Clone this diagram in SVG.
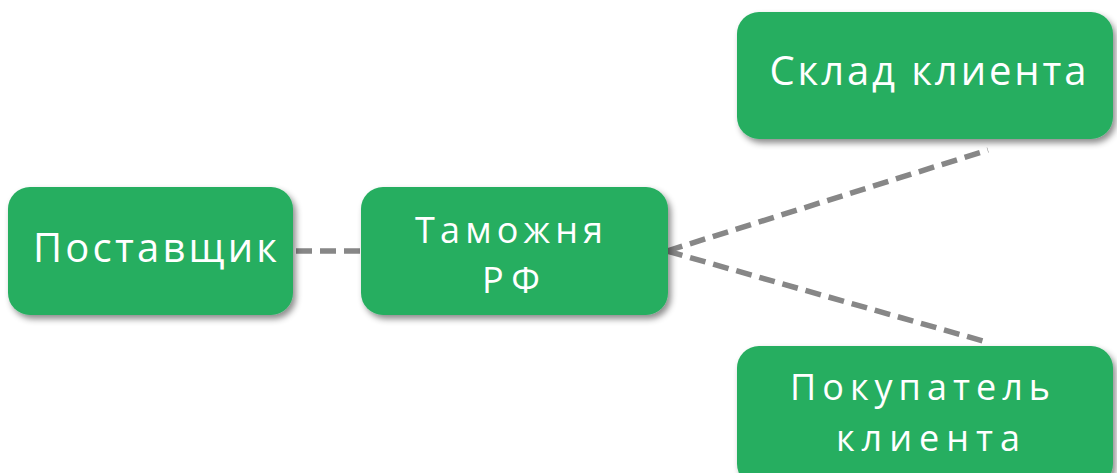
<svg xmlns="http://www.w3.org/2000/svg" width="1117" height="473" viewBox="0 0 1117 473">
<defs>
<filter id="sh" x="-10%" y="-10%" width="125%" height="135%">
<feDropShadow dx="3" dy="4" stdDeviation="3" flood-color="#000" flood-opacity="0.45"/>
</filter>
<style>
.box{fill:#27AE60;filter:url(#sh)}
.t{fill:#fff;font-family:"Open Sans","DejaVu Sans",sans-serif;font-size:40px;text-anchor:middle}
.s{font-size:36px}
.c{stroke:#878787;stroke-width:5.5;stroke-dasharray:16 8;fill:none}
</style>
</defs>
<g id="connectors">
<line class="c" x1="296" y1="251" x2="361" y2="251"/>
<line class="c" x1="667" y1="251" x2="988" y2="150"/>
<line class="c" x1="667" y1="251" x2="983" y2="341"/>
</g>
<g id="n-postavshchik">
<rect class="box" x="8" y="187" width="285" height="128" rx="22"/>
<text class="t" x="155" y="262" textLength="244" lengthAdjust="spacing">Поставщик</text>
</g>
<g id="n-tamozhnya">
<rect class="box" x="361" y="187" width="307" height="128" rx="22"/>
<text class="t s" x="509" y="243" textLength="188" lengthAdjust="spacing">Таможня</text>
<text class="t s" x="511" y="293" textLength="58" lengthAdjust="spacing">РФ</text>
</g>
<g id="n-sklad">
<rect class="box" x="737" y="12" width="376" height="127" rx="22"/>
<text class="t" x="928" y="85" textLength="317" lengthAdjust="spacing">Склад клиента</text>
</g>
<g id="n-pokupatel">
<rect class="box" x="737" y="346" width="376" height="140" rx="22"/>
<text class="t s" x="920" y="400" textLength="260" lengthAdjust="spacing">Покупатель</text>
<text class="t s" x="928" y="451" textLength="184" lengthAdjust="spacing">клиента</text>
</g>
</svg>
